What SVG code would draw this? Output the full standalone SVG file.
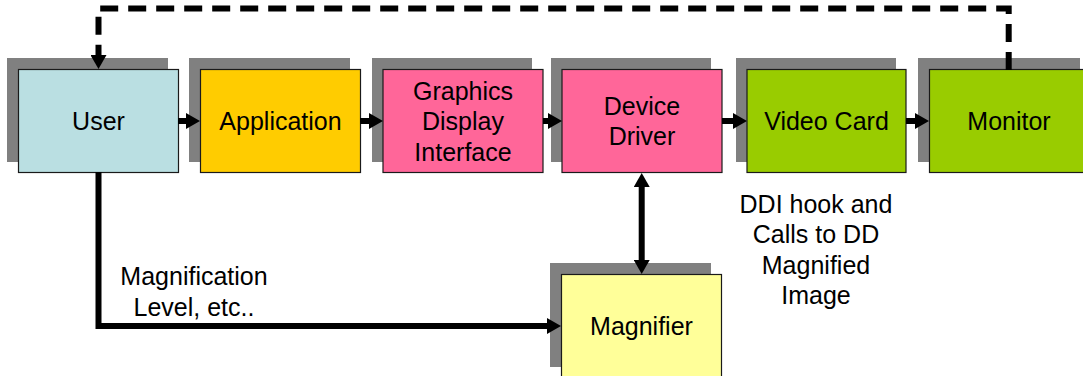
<svg xmlns="http://www.w3.org/2000/svg" width="1083" height="376" viewBox="0 0 1083 376">
  <style>
    .shadow { fill: #808080; }
    .box { stroke: #1a1a1a; stroke-width: 1.2; }
    .lbl { font-family: "Liberation Sans", Arial, sans-serif; font-size: 25px; fill: #000; text-anchor: middle; }
    .conn { fill: none; stroke: #000; stroke-width: 6; }
    .dash { stroke-dasharray: 18 10; }
  </style>
  <defs>
    <marker id="head" viewBox="0 0 14 16" refX="4" refY="8" markerWidth="14" markerHeight="16" markerUnits="userSpaceOnUse" orient="auto-start-reverse">
      <path d="M0,0 L14,8 L0,16 Z" fill="#000"/>
    </marker>
  </defs>

  <rect width="1083" height="376" fill="#fff"/>

  <g id="user">
    <rect class="shadow" x="7" y="58" width="161" height="104"/>
    <rect class="box" x="18.5" y="69.5" width="160" height="103" fill="#BADFE2"/>
    <text class="lbl" x="98.5" y="130">User</text>
  </g>

  <g id="application">
    <rect class="shadow" x="189" y="58" width="161" height="104"/>
    <rect class="box" x="200.5" y="69.5" width="160" height="103" fill="#FFCC00"/>
    <text class="lbl" x="280.5" y="130">Application</text>
  </g>

  <g id="gdi">
    <rect class="shadow" x="372" y="58" width="160" height="104"/>
    <rect class="box" x="383" y="69.5" width="160" height="103" fill="#FF6699"/>
    <text class="lbl" x="463" y="99.5">Graphics</text>
    <text class="lbl" x="463" y="130">Display</text>
    <text class="lbl" x="463" y="160.5">Interface</text>
  </g>

  <g id="device-driver">
    <rect class="shadow" x="551" y="58" width="160" height="104"/>
    <rect class="box" x="562" y="69.5" width="160" height="103" fill="#FF6699"/>
    <text class="lbl" x="642" y="115">Device</text>
    <text class="lbl" x="642" y="145">Driver</text>
  </g>

  <g id="video-card">
    <rect class="shadow" x="736" y="58" width="160" height="104"/>
    <rect class="box" x="747" y="69.5" width="159" height="103" fill="#99CC00"/>
    <text class="lbl" x="826.5" y="130">Video Card</text>
  </g>

  <g id="monitor">
    <rect class="shadow" x="918" y="58" width="162" height="104"/>
    <rect class="box" x="929.5" y="69.5" width="160" height="103" fill="#99CC00"/>
    <text class="lbl" x="1009" y="130">Monitor</text>
  </g>

  <g id="magnifier">
    <rect class="shadow" x="550" y="263" width="161" height="104"/>
    <rect class="box" x="561.5" y="274.5" width="160" height="103" fill="#FFFF99"/>
    <text class="lbl" x="641.5" y="335">Magnifier</text>
  </g>

  <g id="connectors">
    <line class="conn" x1="178" y1="121" x2="190" y2="121" marker-end="url(#head)"/>
    <line class="conn" x1="360" y1="121" x2="373" y2="121" marker-end="url(#head)"/>
    <line class="conn" x1="543" y1="121" x2="552" y2="121" marker-end="url(#head)"/>
    <line class="conn" x1="722" y1="121" x2="737" y2="121" marker-end="url(#head)"/>
    <line class="conn" x1="906" y1="121" x2="919" y2="121" marker-end="url(#head)"/>
    <!-- feedback loop: monitor back to the user -->
    <path class="conn dash" d="M1008.7,70 V8.5 H98.5 V59" marker-end="url(#head)"/>
    <!-- user settings down to the magnifier -->
    <path class="conn" d="M98.5,172 V326 H551" marker-end="url(#head)"/>
    <!-- two-way link between driver and magnifier -->
    <line class="conn" x1="641.7" y1="183" x2="641.7" y2="264" marker-start="url(#head)" marker-end="url(#head)"/>
  </g>

  <g id="labels">
    <text class="lbl" x="194" y="285">Magnification</text>
    <text class="lbl" x="194" y="316">Level, etc..</text>
    <text class="lbl" x="816" y="213">DDI hook and</text>
    <text class="lbl" x="816" y="243">Calls to DD</text>
    <text class="lbl" x="816" y="273.5">Magnified</text>
    <text class="lbl" x="816" y="304">Image</text>
  </g>
</svg>
